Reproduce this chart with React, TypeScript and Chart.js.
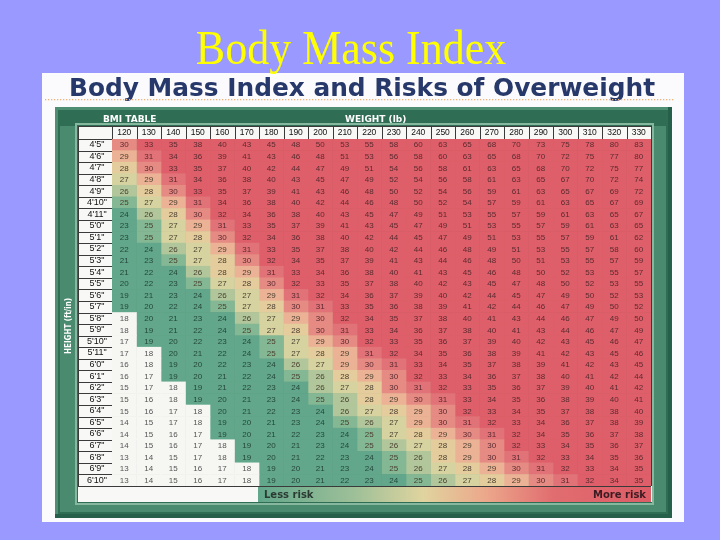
import React, { useEffect, useRef } from "react";
import { Chart, registerables } from "chart.js";

Chart.register(...registerables);

// ---------- data ----------
const weights = ["120", "130", "140", "150", "160", "170", "180", "190", "200", "210", "220", "230", "240", "250", "260", "270", "280", "290", "300", "310", "320", "330"];

const heights = [
  `4'5"`, `4'6"`, `4'7"`, `4'8"`, `4'9"`, `4'10"`, `4'11"`, `5'0"`, `5'1"`, `5'2"`,
  `5'3"`, `5'4"`, `5'5"`, `5'6"`, `5'7"`, `5'8"`, `5'9"`, `5'10"`, `5'11"`, `6'0"`,
  `6'1"`, `6'2"`, `6'3"`, `6'4"`, `6'5"`, `6'6"`, `6'7"`, `6'8"`, `6'9"`, `6'10"`,
];

// BMI values, one row per height, one column per weight
const bmiRows: number[][] = [
  [30, 33, 35, 38, 40, 43, 45, 48, 50, 53, 55, 58, 60, 63, 65, 68, 70, 73, 75, 78, 80, 83],
  [29, 31, 34, 36, 39, 41, 43, 46, 48, 51, 53, 56, 58, 60, 63, 65, 68, 70, 72, 75, 77, 80],
  [28, 30, 33, 35, 37, 40, 42, 44, 47, 49, 51, 54, 56, 58, 61, 63, 65, 68, 70, 72, 75, 77],
  [27, 29, 31, 34, 36, 38, 40, 43, 45, 47, 49, 52, 54, 56, 58, 61, 63, 65, 67, 70, 72, 74],
  [26, 28, 30, 33, 35, 37, 39, 41, 43, 46, 48, 50, 52, 54, 56, 59, 61, 63, 65, 67, 69, 72],
  [25, 27, 29, 31, 34, 36, 38, 40, 42, 44, 46, 48, 50, 52, 54, 57, 59, 61, 63, 65, 67, 69],
  [24, 26, 28, 30, 32, 34, 36, 38, 40, 43, 45, 47, 49, 51, 53, 55, 57, 59, 61, 63, 65, 67],
  [23, 25, 27, 29, 31, 33, 35, 37, 39, 41, 43, 45, 47, 49, 51, 53, 55, 57, 59, 61, 63, 65],
  [23, 25, 27, 28, 30, 32, 34, 36, 38, 40, 42, 44, 45, 47, 49, 51, 53, 55, 57, 59, 61, 62],
  [22, 24, 26, 27, 29, 31, 33, 35, 37, 38, 40, 42, 44, 46, 48, 49, 51, 53, 55, 57, 58, 60],
  [21, 23, 25, 27, 28, 30, 32, 34, 35, 37, 39, 41, 43, 44, 46, 48, 50, 51, 53, 55, 57, 59],
  [21, 22, 24, 26, 28, 29, 31, 33, 34, 36, 38, 40, 41, 43, 45, 46, 48, 50, 52, 53, 55, 57],
  [20, 22, 23, 25, 27, 28, 30, 32, 33, 35, 37, 38, 40, 42, 43, 45, 47, 48, 50, 52, 53, 55],
  [19, 21, 23, 24, 26, 27, 29, 31, 32, 34, 36, 37, 39, 40, 42, 44, 45, 47, 49, 50, 52, 53],
  [19, 20, 22, 24, 25, 27, 28, 30, 31, 33, 35, 36, 38, 39, 41, 42, 44, 46, 47, 49, 50, 52],
  [18, 20, 21, 23, 24, 26, 27, 29, 30, 32, 34, 35, 37, 38, 40, 41, 43, 44, 46, 47, 49, 50],
  [18, 19, 21, 22, 24, 25, 27, 28, 30, 31, 33, 34, 36, 37, 38, 40, 41, 43, 44, 46, 47, 49],
  [17, 19, 20, 22, 23, 24, 25, 27, 29, 30, 32, 33, 35, 36, 37, 39, 40, 42, 43, 45, 46, 47],
  [17, 18, 20, 21, 22, 24, 25, 27, 28, 29, 31, 32, 34, 35, 36, 38, 39, 41, 42, 43, 45, 46],
  [16, 18, 19, 20, 22, 23, 24, 26, 27, 29, 30, 31, 33, 34, 35, 37, 38, 39, 41, 42, 43, 45],
  [16, 17, 19, 20, 21, 22, 24, 25, 26, 28, 29, 30, 32, 33, 34, 36, 37, 38, 40, 41, 42, 44],
  [15, 17, 18, 19, 21, 22, 23, 24, 26, 27, 28, 30, 31, 32, 33, 35, 36, 37, 39, 40, 41, 42],
  [15, 16, 18, 19, 20, 21, 23, 24, 25, 26, 28, 29, 30, 31, 33, 34, 35, 36, 38, 39, 40, 41],
  [15, 16, 17, 18, 20, 21, 22, 23, 24, 26, 27, 28, 29, 30, 32, 33, 34, 35, 37, 38, 38, 40],
  [14, 15, 17, 18, 19, 20, 21, 23, 24, 25, 26, 27, 29, 30, 31, 32, 33, 34, 36, 37, 38, 39],
  [14, 15, 16, 17, 19, 20, 21, 22, 23, 24, 25, 27, 28, 29, 30, 31, 32, 34, 35, 36, 37, 38],
  [14, 15, 16, 17, 18, 19, 20, 21, 23, 24, 25, 26, 27, 28, 29, 30, 32, 33, 34, 35, 36, 37],
  [13, 14, 15, 17, 18, 19, 20, 21, 22, 23, 24, 25, 26, 28, 29, 30, 31, 32, 33, 34, 35, 36],
  [13, 14, 15, 16, 17, 18, 19, 20, 21, 23, 24, 25, 26, 27, 28, 29, 30, 31, 32, 33, 34, 35],
  [13, 14, 15, 16, 17, 18, 19, 20, 21, 22, 23, 24, 25, 26, 27, 28, 29, 30, 31, 32, 34, 35],
];

// ---------- styling ----------
const LINE = "#3a3a3a";
const SANS = '"Liberation Sans", Arial, sans-serif';
const BOLD_SANS = '"DejaVu Sans", Verdana, sans-serif';

function cellColor(v: number): string {
  if (v <= 18) return "#f6f6f3";
  if (v <= 24) return "#62a78b";
  if (v === 25) return "#84b793";
  if (v === 26) return "#b2c69b";
  if (v === 27) return "#d6d3a1";
  if (v === 28) return "#e4cc9d";
  if (v === 29) return "#ebb295";
  if (v === 30) return "#e68b83";
  if (v === 31) return "#e17277";
  return "#de5f69";
}

const decorPlugin = {
  id: "decor",
  beforeDraw(chart: any) {
    const ctx = chart.ctx as CanvasRenderingContext2D;
    ctx.save();
    // slide background
    ctx.fillStyle = "#9999ff";
    ctx.fillRect(0, 0, 720, 540);
    // white panel
    ctx.fillStyle = "#fbfbfd";
    ctx.fillRect(42, 73, 642, 449);
    // slide title (drawn over the panel edge, like the slide)
    ctx.fillStyle = "#ffff00";
    ctx.font = '44px "Liberation Serif", "Times New Roman", serif';
    ctx.textAlign = "center";
    ctx.textBaseline = "alphabetic";
    ctx.save();
    ctx.translate(351, 64);
    ctx.scale(1, 1.1);
    ctx.fillText("Body Mass Index", 0, 0);
    ctx.restore();
    // heading
    const head = "Body Mass Index and Risks of Overweight";
    ctx.fillStyle = "#27386a";
    ctx.font = `bold 24px ${BOLD_SANS}`;
    ctx.textAlign = "left";
    const hw = ctx.measureText(head).width;
    ctx.save();
    ctx.translate(69, 96);
    ctx.scale(586 / hw, 1);
    ctx.fillText(head, 0, 0);
    ctx.restore();
    // dotted rule
    ctx.fillStyle = "#efb27a";
    for (let x = 45; x < 673; x += 3) ctx.fillRect(x, 99, 1.3, 1.3);
    // green frame
    ctx.fillStyle = "#2f6d55";
    ctx.fillRect(55, 107, 617, 411);
    ctx.fillStyle = "#4f8e73";
    ctx.fillRect(55, 107, 617, 3);
    ctx.fillRect(55, 107, 3, 411);
    ctx.fillStyle = "#26604a";
    ctx.fillRect(55, 514, 617, 4);
    ctx.fillRect(668, 107, 4, 411);
    ctx.fillStyle = "#4a8a6f";
    ctx.fillRect(60, 126, 16, 384);
    ctx.fillRect(60, 504, 605, 8);
    ctx.fillRect(654, 126, 12, 386);
    ctx.strokeStyle = "#86b8a0";
    ctx.lineWidth = 2;
    ctx.strokeRect(76, 124, 577, 380);
    // frame labels
    ctx.fillStyle = "#ffffff";
    ctx.font = `bold 9px ${BOLD_SANS}`;
    ctx.textBaseline = "alphabetic";
    ctx.textAlign = "left";
    ctx.fillText("BMI TABLE", 103, 122);
    ctx.fillText("WEIGHT (lb)", 345, 122);
    ctx.save();
    ctx.translate(71, 326);
    ctx.rotate(-Math.PI / 2);
    ctx.textAlign = "center";
    ctx.font = `bold 8px ${BOLD_SANS}`;
    const vt = "HEIGHT (ft/in)";
    const vw = ctx.measureText(vt).width;
    ctx.scale(56 / vw, 1);
    ctx.fillText(vt, 0, 0);
    ctx.restore();
    // table paper
    ctx.fillStyle = "#f8f8f6";
    ctx.fillRect(78, 126, 574, 376);
    // risk band
    const grad = ctx.createLinearGradient(258, 0, 651, 0);
    grad.addColorStop(0, "#62a78b");
    grad.addColorStop(0.25, "#9fc098");
    grad.addColorStop(0.42, "#e0d49f");
    grad.addColorStop(0.58, "#eca78b");
    grad.addColorStop(0.75, "#e16d70");
    grad.addColorStop(1, "#dd5d67");
    ctx.fillStyle = grad;
    ctx.fillRect(258, 487, 393, 15);
    ctx.fillStyle = "#2b3b33";
    ctx.font = `bold 10px ${BOLD_SANS}`;
    ctx.textAlign = "left";
    ctx.fillText("Less risk", 264, 498);
    ctx.fillStyle = "#3a1c22";
    ctx.textAlign = "right";
    ctx.fillText("More risk", 646, 498);
    ctx.restore();
  },
  afterDatasetsDraw(chart: any) {
    const ctx = chart.ctx as CanvasRenderingContext2D;
    ctx.save();
    ctx.font = `8px ${SANS}`;
    ctx.textAlign = "center";
    ctx.textBaseline = "middle";
    chart.data.datasets.forEach((_: any, j: number) => {
      const meta = chart.getDatasetMeta(j);
      meta.data.forEach((el: any, r: number) => {
        const v = bmiRows[r][j];
        ctx.fillStyle = v <= 18 ? "#555555" : v <= 24 ? "#24463a" : v <= 29 ? "#4a4030" : "#5a2a30";
        ctx.fillText(String(v), (el.x + el.base) / 2, el.y + 0.5);
      });
    });
    ctx.restore();
  },
  afterDraw(chart: any) {
    const ctx = chart.ctx as CanvasRenderingContext2D;
    const ca = chart.chartArea;
    const ys = chart.scales.y;
    const xs = chart.scales.x2;
    ctx.save();
    ctx.strokeStyle = LINE;
    ctx.lineWidth = 1;
    ctx.beginPath();
    const rowH = ys.getPixelForValue(1) - ys.getPixelForValue(0);
    for (let i = 0; i <= heights.length; i++) {
      const y = Math.round(ys.getPixelForValue(i) - rowH / 2) + 0.5;
      ctx.moveTo(78, y);
      ctx.lineTo(ca.left, y);
    }
    const colW = xs.getPixelForValue(1) - xs.getPixelForValue(0);
    for (let j = 0; j <= weights.length; j++) {
      const x = Math.round(xs.getPixelForValue(j) - colW / 2) + 0.5;
      ctx.moveTo(x, 126);
      ctx.lineTo(x, ca.top);
    }
    ctx.moveTo(78, 126.5);
    ctx.lineTo(ca.right, 126.5);
    ctx.moveTo(78.5, 126);
    ctx.lineTo(78.5, ca.bottom);
    ctx.stroke();
    ctx.restore();
  },
};

export default function App() {
  const ref = useRef<HTMLCanvasElement>(null);

  useEffect(() => {
    if (!ref.current) return;
    const datasets = weights.map((w, j) => ({
      label: `${w} lb`,
      data: heights.map(() => 1),
      backgroundColor: bmiRows.map((row) => cellColor(row[j])),
      borderWidth: 0,
      barPercentage: 1,
      categoryPercentage: 1,
      xAxisID: "x",
      yAxisID: "y",
    }));

    const chart = new Chart(ref.current, {
      type: "bar",
      data: { labels: heights, datasets },
      plugins: [decorPlugin],
      options: {
        indexAxis: "y",
        responsive: false,
        animation: false,
        devicePixelRatio: 1,
        events: [],
        layout: { padding: { left: 78, top: 126, right: 69, bottom: 54 } },
        plugins: {
          legend: { display: false },
          tooltip: { enabled: false },
          title: { display: false },
        },
        scales: {
          x: {
            type: "linear",
            stacked: true,
            min: 0,
            max: weights.length,
            display: false,
          },
          x2: {
            type: "category",
            position: "top",
            labels: weights,
            offset: true,
            z: 1,
            grid: { offset: true, color: LINE, drawTicks: false, lineWidth: 1 },
            border: { display: true, color: LINE },
            ticks: {
              autoSkip: false,
              maxRotation: 0,
              padding: 1,
              color: "#111111",
              font: { family: SANS, size: 8.5 },
            },
            afterFit: (s: any) => {
              s.height = 13;
            },
          },
          y: {
            type: "category",
            stacked: true,
            offset: true,
            z: 1,
            grid: { offset: true, color: LINE, drawTicks: false, lineWidth: 1 },
            border: { display: true, color: LINE },
            ticks: {
              autoSkip: false,
              crossAlign: "center",
              padding: 5,
              color: "#111111",
              font: { family: SANS, size: 9 },
            },
            afterFit: (s: any) => {
              s.width = 34;
            },
          },
        },
      } as any,
    });
    return () => chart.destroy();
  }, []);

  return (
    <div style={{ position: "fixed", left: 0, top: 0, width: 720, height: 540, background: "#9999ff" }}>
      <canvas ref={ref} width={720} height={540} style={{ display: "block", width: 720, height: 540 }} />
    </div>
  );
}
